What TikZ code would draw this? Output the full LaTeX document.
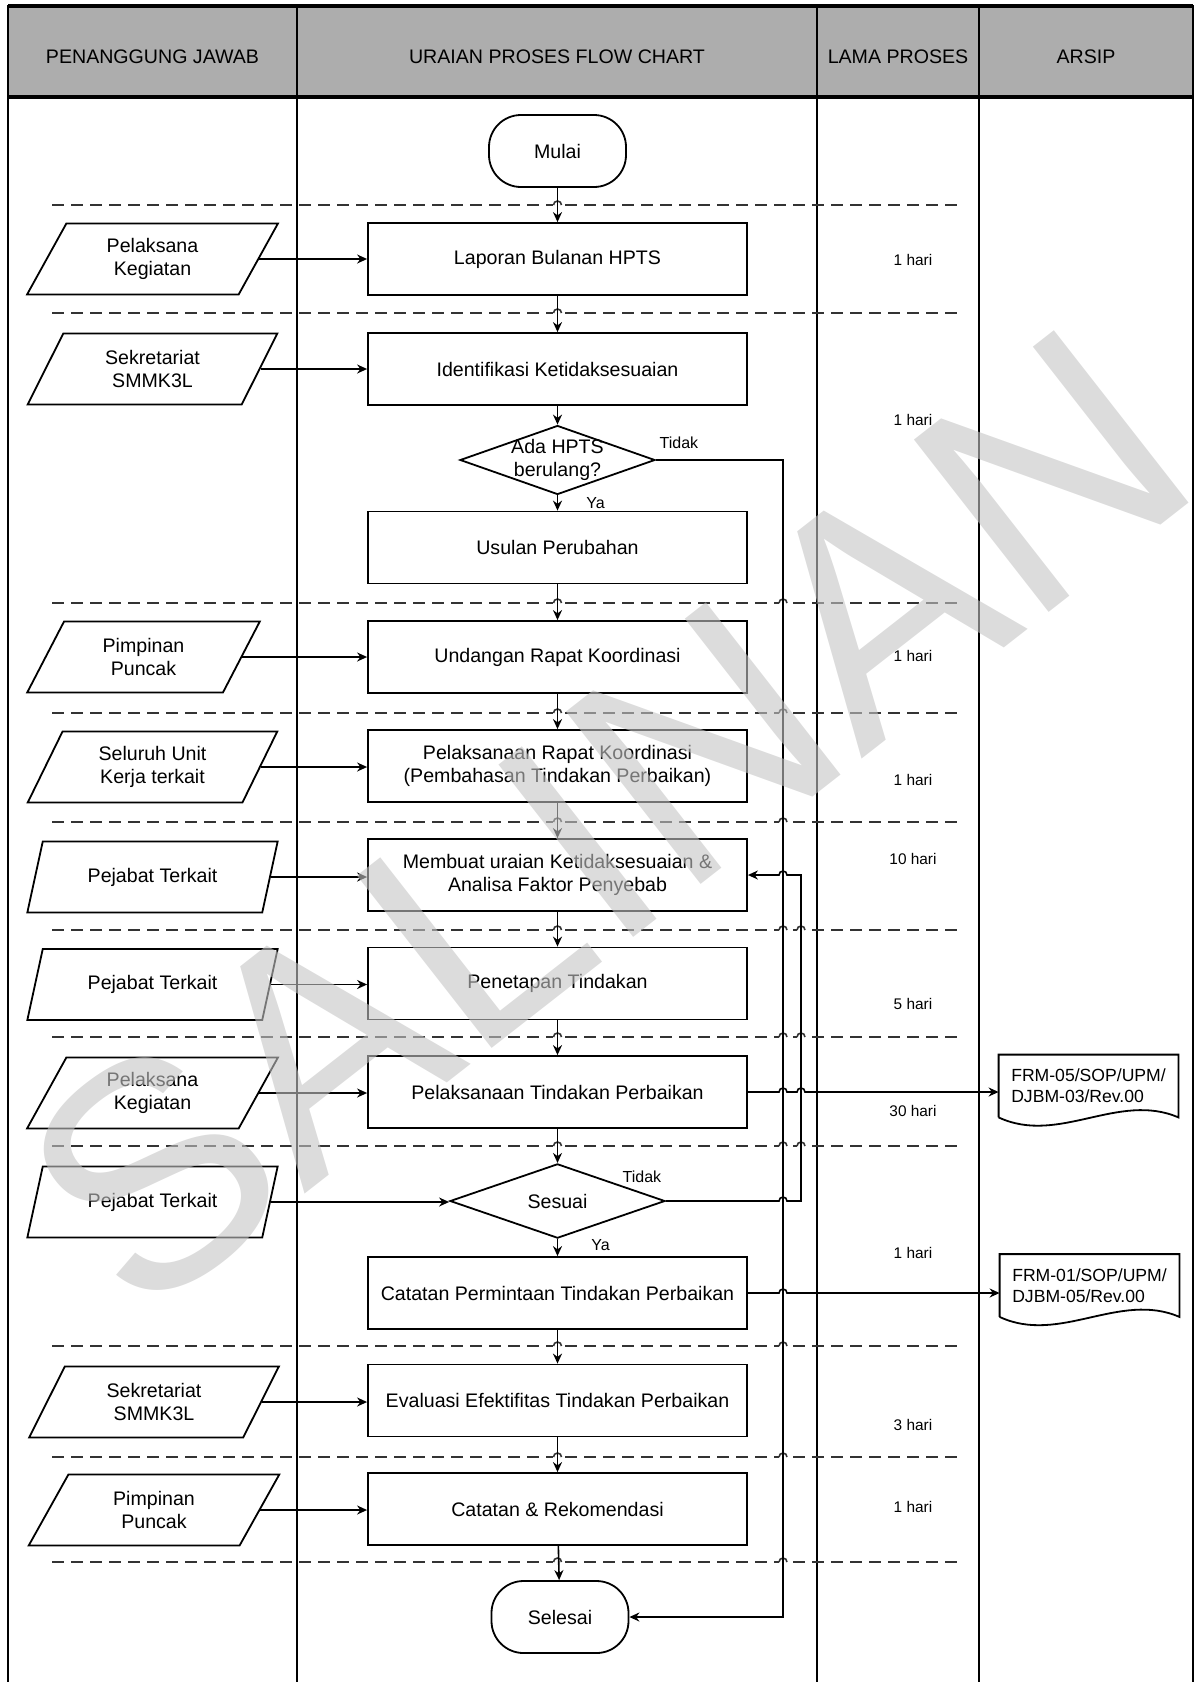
\documentclass[tikz,border=0pt]{standalone}
\usepackage{fontspec}
\setmainfont{Liberation Sans}
\usetikzlibrary{
  positioning,
  calc,
  arrows.meta,
  shapes.geometric
}

\begin{document}
\begin{tikzpicture}[x=0.5pt,y=-0.5pt,>={Stealth[length=5pt,width=4.5pt]},
  judul/.style={font=\fontsize{9.8}{12}\selectfont},
  proses/.style={draw,line width=0.9pt,minimum width=189.5pt,minimum height=36pt,inner sep=0pt,align=center,font=\fontsize{9.8}{11.8}\selectfont},
  terminal/.style={draw,line width=0.9pt,rounded corners=16pt,minimum width=68.5pt,minimum height=36pt,inner sep=0pt,font=\fontsize{9.8}{11.8}\selectfont},
  masukan/.style={trapezium,trapezium left angle=63.5,trapezium right angle=116.5,trapezium stretches=true,draw,line width=0.9pt,minimum width=125.5pt,minimum height=35.5pt,inner sep=0pt,align=center,font=\fontsize{9.8}{11.8}\selectfont},
  keputusan/.style={diamond,draw,line width=0.9pt,inner sep=0pt,font=\fontsize{9.8}{11.8}\selectfont},
  arsip/.style={minimum width=89.5pt,minimum height=31pt,inner sep=0pt,align=left,font=\fontsize{8.8}{10.5}\selectfont},
  lama/.style={font=\fontsize{7.7}{9}\selectfont},
  ket/.style={font=\fontsize{8}{9}\selectfont,inner sep=0pt},
  pisah/.style={line width=1.2pt,black!80,dash pattern=on 6pt off 3.5pt},
  alur/.style={line width=0.8pt,->}]
  \useasboundingbox (0,0) rectangle (1199,1682);
  % 表
  \fill[black!32] (8,6) rectangle (1193,97);
  \draw[line width=0.9pt] (8,1682) -- (8,6) -- (1193,6) -- (1193,1682);
  \draw[line width=1.6pt] (8,6) -- (1193,6);
  \draw[line width=1.6pt] (8,97) -- (1193,97);
  \foreach \x in {297,817,979} \draw[line width=0.9pt] (\x,6) -- (\x,1682);
  \node[judul] (h1) at (152.5,57) {PENANGGUNG JAWAB};
  \node[judul] (h2) at (557,57) {URAIAN PROSES FLOW CHART};
  \node[judul] (h3) at (898,57) {LAMA PROSES};
  \node[judul] (h4) at (1086,57) {ARSIP};
  % 区切り線
  \foreach \y in {205,313,603,713,822,930,1037,1146,1346,1457,1562}{
    \draw[pisah] (52,\y) -- (963,\y);
    \fill[white] (553,\y-3) rectangle (562,\y+3);
    \draw[line width=0.8pt,black!80] (553.5,\y) arc[start angle=180,end angle=0,radius=2pt];
  }
  \foreach \x/\y in {783/603,783/713,783/822,783/930,783/1037,783/1146,783/1346,783/1457,783/1562,801/930,801/1037,801/1146}{
    \fill[white] (\x-4.5,\y-3) rectangle (\x+4.5,\y+3);
    \draw[line width=0.8pt,black!80] (\x-4,\y) arc[start angle=180,end angle=0,radius=2pt];
  }
  \coordinate (jalurA) at (783,0);
  \coordinate (jalurB) at (801,0);
  % 流れ図
  \node[terminal] (mulai) at (557.5,151) {Mulai};
  \node[proses] (laporan) at (557.5,259) {Laporan Bulanan HPTS};
  \node[masukan] (p1) at (152.5,259) {Pelaksana\\Kegiatan};
  \node[proses] (identifikasi) at (557.5,369) {Identifikasi Ketidaksesuaian};
  \node[masukan] (p2) at (152.5,369) {Sekretariat\\SMMK3L};
  \node[keputusan,minimum width=97.5pt,minimum height=34.5pt,
    label={[font=\fontsize{9.8}{11.8}\selectfont,align=center]center:Ada HPTS\\berulang?}] (ada) at (557.5,460) {};
  \node[proses] (usulan) at (557.5,547.5) {Usulan Perubahan};
  \node[proses] (undangan) at (557.5,657) {Undangan Rapat Koordinasi};
  \node[masukan,minimum width=116.5pt] (p3) at (143.5,657) {Pimpinan\\Puncak};
  \node[proses] (rapat) at (557.5,766) {Pelaksanaan Rapat Koordinasi\\(Pembahasan Tindakan Perbaikan)};
  \node[masukan] (p4) at (152.5,767) {Seluruh Unit\\Kerja terkait};
  \node[proses] (membuat) at (557.5,875) {Membuat uraian Ketidaksesuaian \&\\Analisa Faktor Penyebab};
  \node[masukan] (p5) at (152.5,877) {Pejabat Terkait};
  \node[proses] (penetapan) at (557.5,983.5) {Penetapan Tindakan};
  \node[masukan] (p6) at (152.5,984.5) {Pejabat Terkait};
  \node[proses] (pelt) at (557.5,1092) {Pelaksanaan Tindakan Perbaikan};
  \node[masukan] (p7) at (152.5,1093) {Pelaksana\\Kegiatan};
  \node[keputusan,minimum width=107.5pt,minimum height=36.5pt] (sesuai) at (557.5,1201) {Sesuai};
  \node[masukan] (p8) at (152.5,1202) {Pejabat Terkait};
  \node[proses] (catatp) at (557.5,1293) {Catatan Permintaan Tindakan Perbaikan};
  \node[proses] (evaluasi) at (557.5,1400.5) {Evaluasi Efektifitas Tindakan Perbaikan};
  \node[masukan] (p9) at (154,1402) {Sekretariat\\SMMK3L};
  \node[proses] (rekom) at (557.5,1509) {Catatan \& Rekomendasi};
  \node[masukan] (p10) at (154,1510) {Pimpinan\\Puncak};
  \node[terminal] (selesai) at (560,1617) {Selesai};
  % 分岐の札
  \node[ket] (tidak1) at ($(ada.east)+(23,-17)$) {Tidak};
  \node[ket] (ya1) at ($(ada.south)+(38,8)$) {Ya};
  \node[ket] (tidak2) at ($(sesuai.east)+(-24,-24)$) {Tidak};
  \node[ket] (ya2) at ($(sesuai.south)+(43,6)$) {Ya};
  % 記録
  \node[arsip] (frm05) at (1088.5,1086) {FRM-05/SOP/UPM/\\DJBM-03/Rev.00};
  \node[arsip] (frm01) at (1089.5,1285.5) {FRM-01/SOP/UPM/\\DJBM-05/Rev.00};
  \draw[line width=0.9pt] (frm05.south west) -- (frm05.north west) -- (frm05.north east) -- (frm05.south east)
    .. controls +(-60,-26) and +(60,28) .. (frm05.south west);
  \draw[line width=0.9pt] (frm01.south west) -- (frm01.north west) -- (frm01.north east) -- (frm01.south east)
    .. controls +(-60,-26) and +(60,28) .. (frm01.south west);
  % 所要時間
  \node[lama] (t1) at (913,260) {1 hari};
  \node[lama] (t2) at (913,420) {1 hari};
  \node[lama] (t3) at (913,656) {1 hari};
  \node[lama] (t4) at (913,780) {1 hari};
  \node[lama] (t5) at (913,859) {10 hari};
  \node[lama] (t6) at (913,1004) {5 hari};
  \node[lama] (t7) at (913,1111) {30 hari};
  \node[lama] (t8) at (913,1253) {1 hari};
  \node[lama] (t9) at (913,1425) {3 hari};
  \node[lama] (t10) at (913,1507) {1 hari};
  % 矢印
  \draw[alur] (mulai) -- (laporan);
  \draw[alur] (laporan) -- (identifikasi);
  \draw[alur] (identifikasi) -- (ada);
  \draw[alur] (ada) -- (usulan);
  \draw[alur] (usulan) -- (undangan);
  \draw[alur] (undangan) -- (rapat);
  \draw[alur] (rapat) -- (membuat);
  \draw[alur] (membuat) -- (penetapan);
  \draw[alur] (penetapan) -- (pelt);
  \draw[alur] (pelt) -- (sesuai);
  \draw[alur] (sesuai) -- (catatp);
  \draw[alur] (catatp) -- (evaluasi);
  \draw[alur] (evaluasi) -- (rekom);
  \draw[alur] (rekom) -- (selesai);
  \draw[alur] (p1.east) -- (p1.east -| laporan.west);
  \draw[alur] (p2.east) -- (p2.east -| identifikasi.west);
  \draw[alur] (p3.east) -- (p3.east -| undangan.west);
  \draw[alur] (p4.east) -- (p4.east -| rapat.west);
  \draw[alur] (p5.east) -- (p5.east -| membuat.west);
  \draw[alur] (p6.east) -- (p6.east -| penetapan.west);
  \draw[alur] (p7.east) -- (p7.east -| pelt.west);
  \draw[alur] (p8.east) -- (p8.east -| sesuai.west);
  \draw[alur] (p9.east) -- (p9.east -| evaluasi.west);
  \draw[alur] (p10.east) -- (p10.east -| rekom.west);
  \draw[alur] (ada.east) -- (ada.east -| jalurA) -- (selesai.east -| jalurA) -- (selesai.east);
  \draw[alur] (sesuai.east) -- ([xshift=-2pt]sesuai.east -| jalurA) arc[start angle=180,end angle=0,radius=2pt]
    -- (sesuai.east -| jalurB) -- (membuat.east -| jalurB)
    -- ([xshift=2pt]membuat.east -| jalurA) arc[start angle=0,end angle=180,radius=2pt] -- (membuat.east);
  \draw[alur] (pelt.east) -- ([xshift=-2pt]pelt.east -| jalurA) arc[start angle=180,end angle=0,radius=2pt]
    -- ([xshift=-2pt]pelt.east -| jalurB) arc[start angle=180,end angle=0,radius=2pt] -- (pelt.east -| frm05.west);
  \draw[alur] (catatp.east) -- ([xshift=-2pt]catatp.east -| jalurA) arc[start angle=180,end angle=0,radius=2pt]
    -- (catatp.east -| frm01.west);
  % 透かし
  \node[font=\fontsize{159}{159}\selectfont,text=black!23,text opacity=0.6,rotate=38] (salinan) at (606,820) {SALINAN};
\end{tikzpicture}
\end{document}
